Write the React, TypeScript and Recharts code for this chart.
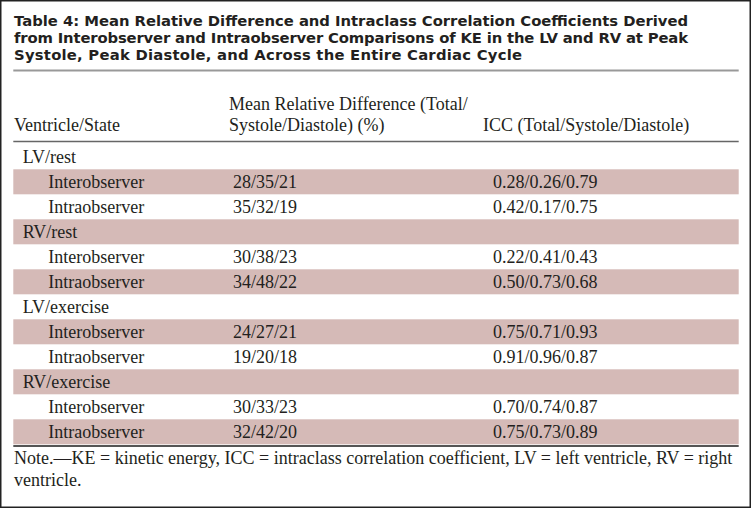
import React from 'react';
import { BarChart, Bar, XAxis, YAxis, Customized } from 'recharts';

// ---- data ----
const rowLabels = [
  'LV/rest', 'Interobserver', 'Intraobserver',
  'RV/rest', 'Interobserver', 'Intraobserver',
  'LV/exercise', 'Interobserver', 'Intraobserver',
  'RV/exercise', 'Interobserver', 'Intraobserver',
];
const rowIsGroup = [true, false, false, true, false, false, true, false, false, true, false, false];
const meanRelDiff = ['', '28/35/21', '35/32/19', '', '30/38/23', '34/48/22', '', '24/27/21', '19/20/18', '', '30/33/23', '32/42/20'];
const iccValues = ['', '0.28/0.26/0.79', '0.42/0.17/0.75', '', '0.22/0.41/0.43', '0.50/0.73/0.68', '', '0.75/0.71/0.93', '0.91/0.96/0.87', '', '0.70/0.74/0.87', '0.75/0.73/0.89'];
const rowShaded = [false, true, false, true, false, true, false, true, false, true, false, true];

const titleLines = [
  'Table 4: Mean Relative Difference and Intraclass Correlation Coefficients Derived',
  'from Interobserver and Intraobserver Comparisons of KE in the LV and RV at Peak',
  'Systole, Peak Diastole, and Across the Entire Cardiac Cycle',
];
const titleLineWidths = [674, 674, 508];
const headerCol1 = 'Ventricle/State';
const headerCol2 = ['Mean Relative Difference (Total/', 'Systole/Diastole) (%)'];
const headerCol3 = 'ICC (Total/Systole/Diastole)';
const noteLines = [
  'Note.\u2014KE = kinetic energy, ICC = intraclass correlation coefficient, LV = left ventricle, RV = right',
  'ventricle.',
];

const tableData = rowLabels.map((label, i) => ({
  key: `row${i}`,
  label,
  group: rowIsGroup[i],
  mrd: meanRelDiff[i],
  icc: iccValues[i],
  shaded: rowShaded[i],
  band: 1,
}));

// ---- styles ----
const W = 752;
const H = 510;
const SHADE = '#d5bab7';
const INK = '#231f20';
const SERIF = '"Liberation Serif", "Times New Roman", serif';
const SANS = '"DejaVu Sans", sans-serif';
const FS = 18;
const LEFT = 13.3;
const RIGHT = 738.7;

const RowShape = (props: any) => {
  const { x, y, width, height, payload } = props;
  const base = y + height / 2 + 6;
  return (
    <g>
      <rect x={x} y={y} width={width} height={height} fill={payload.shaded ? SHADE : 'none'} />
      <text x={x + (payload.group ? 9.4 : 35)} y={base} fontFamily={SERIF} fontSize={FS} fill={INK}>
        {payload.label}
      </text>
      {payload.mrd ? (
        <text x={x + 219.7} y={base} fontFamily={SERIF} fontSize={FS} fill={INK}>{payload.mrd}</text>
      ) : null}
      {payload.icc ? (
        <text x={x + 479.7} y={base} fontFamily={SERIF} fontSize={FS} fill={INK}>{payload.icc}</text>
      ) : null}
    </g>
  );
};

const Frame = () => (
  <g>
    <rect x={0.75} y={0.75} width={749.5} height={506.5} fill="none" stroke="#222" strokeWidth={1.5} />
    {titleLines.map((t, i) => (
      <text
        key={i}
        x={14}
        y={26 + i * 17}
        fontFamily={SANS}
        fontWeight={700}
        fontSize={14.8}
        fill={INK}
        textLength={titleLineWidths[i]}
        lengthAdjust="spacing"
      >
        {t}
      </text>
    ))}
    <line x1={LEFT} x2={RIGHT} y1={70.5} y2={70.5} stroke="#999" strokeWidth={2} />
    <text x={229} y={109.5} fontFamily={SERIF} fontSize={FS} fill={INK}>{headerCol2[0]}</text>
    <text x={14} y={131} fontFamily={SERIF} fontSize={FS} fill={INK}>{headerCol1}</text>
    <text x={229} y={131} fontFamily={SERIF} fontSize={FS} fill={INK}>{headerCol2[1]}</text>
    <text x={483} y={131} fontFamily={SERIF} fontSize={FS} fill={INK}>{headerCol3}</text>
    <line x1={LEFT} x2={RIGHT} y1={141.5} y2={141.5} stroke="#666" strokeWidth={1.5} />
    <line x1={LEFT} x2={RIGHT} y1={446} y2={446} stroke="#555" strokeWidth={2} />
    {noteLines.map((t, i) => (
      <text key={i} x={14} y={464 + i * 22} fontFamily={SERIF} fontSize={FS} fill={INK}>{t}</text>
    ))}
  </g>
);

export default function App() {
  return (
    <div style={{ position: 'absolute', left: 0, top: 0, width: W, height: H, background: '#fff' }}>
      <BarChart
        width={W}
        height={H}
        data={tableData}
        layout="vertical"
        margin={{ top: 144.3, bottom: H - 444.3, left: LEFT, right: W - RIGHT }}
        barCategoryGap={0}
        barGap={0}
      >
        <XAxis type="number" domain={[0, 1]} hide />
        <YAxis type="category" dataKey="key" hide />
        <Bar dataKey="band" isAnimationActive={false} shape={RowShape} />
        <Customized component={Frame} />
      </BarChart>
    </div>
  );
}
